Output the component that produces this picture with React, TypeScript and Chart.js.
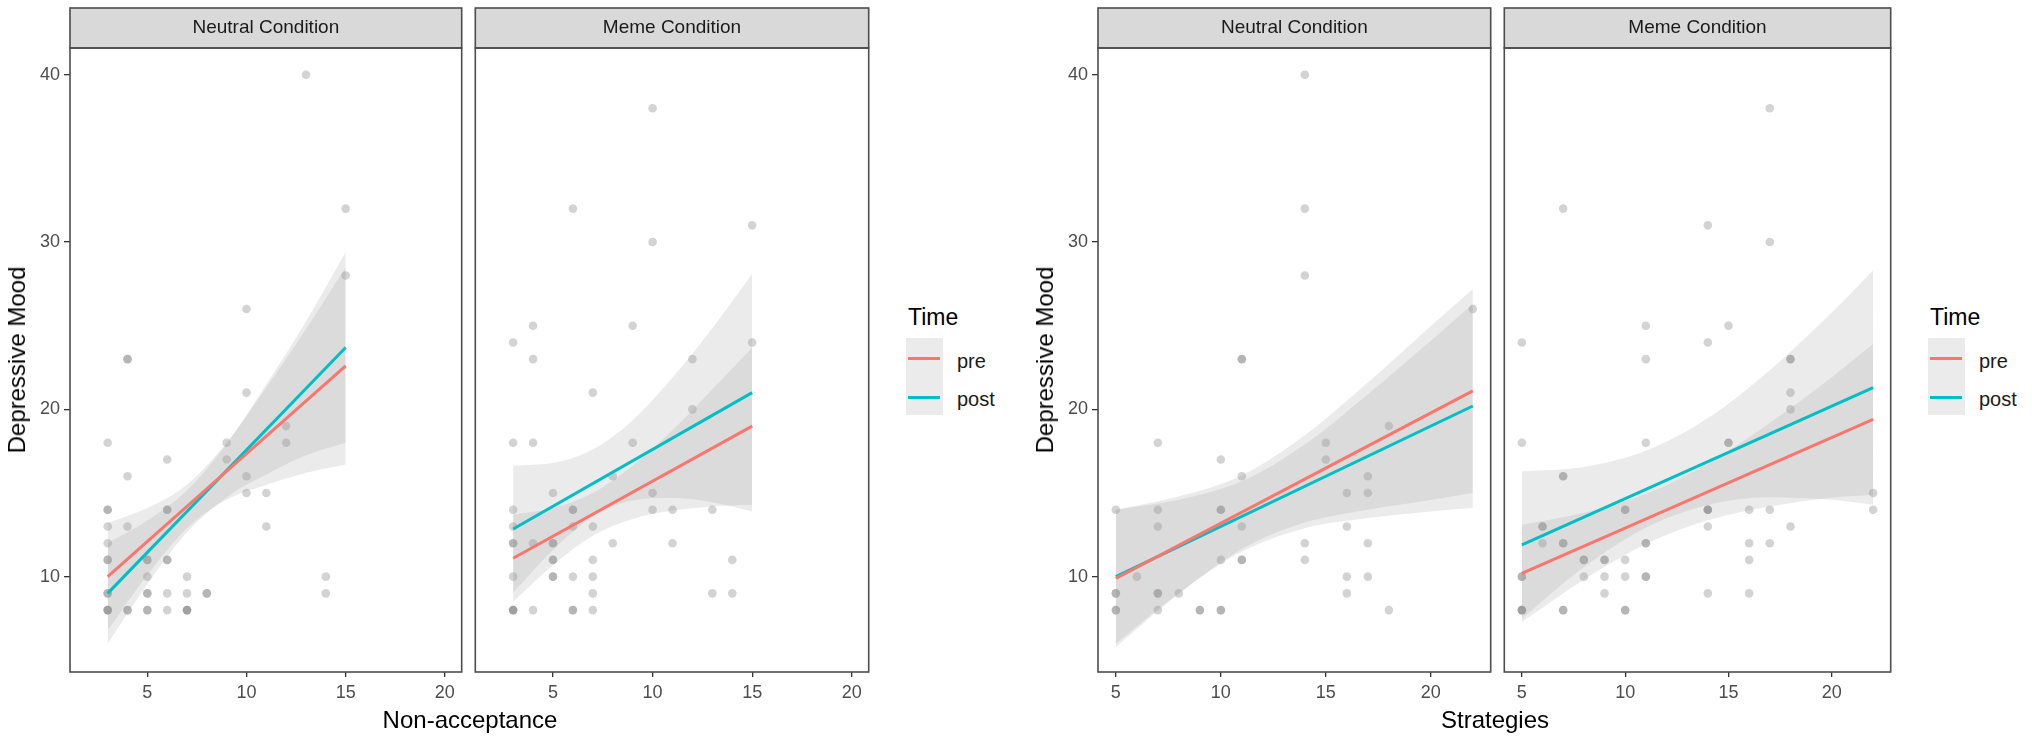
import React, { useEffect, useRef } from 'react';
import { Chart, registerables } from 'chart.js';

Chart.register(...registerables);

const PRE = '#F8766D';
const POST = '#00BFC4';
const FONT = '"Liberation Sans", Arial, sans-serif';
const BAND = 'rgba(153,153,153,0.2)';
const DOT = 'rgba(110,110,110,0.3)';

const conditions = ['Neutral Condition', 'Meme Condition'];
const timeLabels = ['pre', 'post'];
const yTicks = [10, 20, 30, 40];
const yRange = [4.3, 41.6];
const nonAccTicks = [5, 10, 15, 20];
const nonAccRange = [1.1, 20.85];
const strategyTicks = [5, 10, 15, 20];
const strategyRange = [4.15, 22.85];

// Neutral condition, Non-acceptance
const nnPoints = [
  [13, 40], [15, 32], [15, 28], [10, 26], [4, 23], [4, 23], [10, 21], [3, 18], [6, 17], [9, 18],
  [9, 17], [12, 19], [12, 18], [4, 16], [10, 16], [10, 15], [11, 15], [3, 14], [3, 14], [6, 14],
  [6, 14], [3, 13], [4, 13], [11, 13], [3, 12], [3, 11], [3, 11], [5, 11], [5, 11], [6, 11],
  [6, 11], [5, 10], [7, 10], [14, 10], [3, 9], [3, 9], [5, 9], [5, 9], [6, 9], [7, 9],
  [8, 9], [8, 9], [14, 9], [3, 8], [3, 8], [3, 8], [4, 8], [4, 8], [5, 8], [5, 8],
  [6, 8], [7, 8], [7, 8], [7, 8],
];
const nnLineX = [3, 15];
const nnPreLine = [10, 22.6];
const nnPostLine = [9, 23.7];
const nnBandX = [3, 5, 7, 9, 11, 13, 15];
const nnPreUp = [13.2, 14.1, 15.5, 18.0, 21.3, 24.8, 28.5];
const nnPreLo = [6.8, 10.1, 12.9, 14.6, 15.5, 16.2, 16.7];
const nnPostUp = [12.0, 13.35, 15.15, 17.95, 21.5, 25.25, 29.4];
const nnPostLo = [6.0, 9.55, 12.65, 14.75, 16.1, 17.25, 18.0];

// Meme condition, Non-acceptance
const mnPoints = [
  [10, 38], [6, 32], [15, 31], [10, 30], [4, 25], [9, 25], [3, 24], [15, 24], [4, 23], [12, 23],
  [7, 21], [12, 20], [3, 18], [4, 18], [9, 18], [8, 16], [5, 15], [10, 15], [3, 14], [6, 14],
  [6, 14], [10, 14], [11, 14], [13, 14], [3, 13], [6, 13], [7, 13], [3, 12], [3, 12], [4, 12],
  [5, 12], [5, 12], [8, 12], [11, 12], [5, 11], [5, 11], [7, 11], [14, 11], [3, 10], [5, 10],
  [5, 10], [6, 10], [7, 10], [7, 9], [13, 9], [14, 9], [3, 8], [3, 8], [3, 8], [4, 8],
  [6, 8], [6, 8], [7, 8],
];
const mnLineX = [3, 15];
const mnPreLine = [11.1, 19.0];
const mnPostLine = [12.85, 21.0];
const mnBandX = [3, 5, 7, 9, 11, 13, 15];
const mnPreUp = [13.7, 14.1, 15.0, 16.65, 18.75, 21.2, 23.7];
const mnPreLo = [8.5, 10.7, 12.45, 13.45, 13.95, 14.2, 14.3];
const mnPostUp = [16.65, 16.8, 17.6, 19.35, 21.9, 24.85, 28.1];
const mnPostLo = [9.05, 11.6, 13.6, 14.55, 14.7, 14.45, 13.9];

// Neutral condition, Strategies
const nsPoints = [
  [14, 40], [14, 32], [14, 28], [11, 23], [11, 23], [22, 26], [7, 18], [18, 19], [15, 18], [15, 17],
  [10, 17], [11, 16], [17, 16], [16, 15], [17, 15], [5, 14], [7, 14], [10, 14], [10, 14], [7, 13],
  [11, 13], [16, 13], [14, 12], [17, 12], [10, 11], [11, 11], [11, 11], [14, 11], [6, 10], [16, 10],
  [17, 10], [5, 9], [5, 9], [7, 9], [7, 9], [8, 9], [16, 9], [5, 8], [5, 8], [7, 8],
  [9, 8], [9, 8], [10, 8], [10, 8], [18, 8],
];
const nsLineX = [5, 22];
const nsPreLine = [9.9, 21.1];
const nsPostLine = [10.0, 20.2];
const nsBandX = [5, 8, 11, 14, 17, 20, 22];
const nsPreUp = [14.0, 14.8, 16.05, 18.45, 21.6, 24.98, 27.2];
const nsPreLo = [5.8, 8.98, 11.65, 13.23, 14.0, 14.58, 15.0];
const nsPostUp = [14.0, 14.6, 15.7, 17.9, 20.9, 24.1, 26.3];
const nsPostLo = [6.0, 9.0, 11.5, 12.9, 13.5, 13.9, 14.1];

// Meme condition, Strategies
const msPoints = [
  [17, 38], [7, 32], [14, 31], [17, 30], [11, 25], [15, 25], [5, 24], [14, 24], [11, 23], [18, 23],
  [18, 23], [18, 21], [18, 20], [5, 18], [11, 18], [15, 18], [15, 18], [7, 16], [7, 16], [22, 15],
  [10, 14], [10, 14], [14, 14], [14, 14], [14, 14], [16, 14], [17, 14], [22, 14], [6, 13], [6, 13],
  [14, 13], [18, 13], [6, 12], [7, 12], [7, 12], [11, 12], [11, 12], [16, 12], [17, 12], [8, 11],
  [8, 11], [9, 11], [9, 11], [10, 11], [16, 11], [5, 10], [5, 10], [8, 10], [9, 10], [10, 10],
  [11, 10], [11, 10], [9, 9], [14, 9], [16, 9], [5, 8], [5, 8], [5, 8], [7, 8], [7, 8],
  [10, 8], [10, 8],
];
const msLineX = [5, 22];
const msPreLine = [10.2, 19.4];
const msPostLine = [11.9, 21.3];
const msBandX = [5, 8, 11, 14, 17, 20, 22];
const msPreUp = [13.1, 13.82, 14.95, 16.77, 19.19, 21.92, 23.9];
const msPreLo = [7.3, 9.82, 11.95, 13.37, 14.19, 14.72, 14.9];
const msPostUp = [16.3, 16.56, 17.52, 19.48, 22.34, 25.79, 28.3];
const msPostLo = [7.5, 10.56, 12.92, 14.28, 14.74, 14.59, 14.3];

const xy = (xs: number[], ys: number[]) => xs.map((x, i) => ({ x, y: ys[i] }));

// grey strip above each panel and the panel border
const facetPlugin = {
  id: 'facet',
  beforeDraw(chart: any) {
    const { ctx, chartArea: a } = chart;
    ctx.save();
    ctx.fillStyle = '#D9D9D9';
    ctx.fillRect(a.left, a.top - 40, a.right - a.left, 40);
    ctx.strokeStyle = '#4D4D4D';
    ctx.lineWidth = 1.6;
    ctx.strokeRect(a.left, a.top - 40, a.right - a.left, 40);
    ctx.restore();
  },
  afterDatasetsDraw(chart: any) {
    const { ctx, chartArea: a } = chart;
    ctx.save();
    ctx.strokeStyle = '#4D4D4D';
    ctx.lineWidth = 1.6;
    ctx.strokeRect(a.left, a.top, a.right - a.left, a.bottom - a.top);
    ctx.restore();
  },
};

type PanelProps = {
  left: number;
  width: number;
  padLeft: number;
  showY: boolean;
  title: string;
  xRange: number[];
  xTicks: number[];
  points: number[][];
  lineX: number[];
  preLine: number[];
  postLine: number[];
  bandX: number[];
  preUp: number[];
  preLo: number[];
  postUp: number[];
  postLo: number[];
};

const Panel = (p: PanelProps) => {
  const ref = useRef<HTMLCanvasElement>(null);
  useEffect(() => {
    const bandStyle = { type: 'line', showLine: true, borderWidth: 0, pointRadius: 0, cubicInterpolationMode: 'monotone', order: 1 };
    const lineStyle = { type: 'line', showLine: true, borderWidth: 3, pointRadius: 0, fill: false, order: 0 };
    const c = new Chart(ref.current as HTMLCanvasElement, {
      type: 'scatter',
      data: {
        datasets: [
          { ...lineStyle, label: timeLabels[0], data: xy(p.lineX, p.preLine), borderColor: PRE },
          { ...lineStyle, label: timeLabels[1], data: xy(p.lineX, p.postLine), borderColor: POST },
          { ...bandStyle, data: xy(p.bandX, p.preUp), fill: '+1', backgroundColor: BAND },
          { ...bandStyle, data: xy(p.bandX, p.preLo), fill: false },
          { ...bandStyle, data: xy(p.bandX, p.postUp), fill: '+1', backgroundColor: BAND },
          { ...bandStyle, data: xy(p.bandX, p.postLo), fill: false },
          {
            data: p.points.map(([x, y]) => ({ x, y })),
            pointRadius: 4.3,
            pointBorderWidth: 0,
            backgroundColor: DOT,
            order: 2,
          },
        ] as any,
      },
      options: {
        animation: false,
        responsive: false,
        devicePixelRatio: 1,
        events: [],
        layout: { padding: { top: 8, left: p.padLeft, right: 3, bottom: 0 } },
        plugins: {
          legend: { display: false },
          tooltip: { enabled: false },
          title: {
            display: true,
            text: p.title,
            fullSize: false,
            padding: 0,
            color: '#1A1A1A',
            font: { family: FONT, size: 19, weight: 'normal', lineHeight: '40px' as any },
          },
        },
        scales: {
          x: {
            type: 'linear',
            min: p.xRange[0],
            max: p.xRange[1],
            afterBuildTicks: (s: any) => { s.ticks = p.xTicks.map((v) => ({ value: v })); },
            afterFit: (s: any) => { s.height = 40; },
            border: { display: false },
            grid: { drawOnChartArea: false, drawTicks: true, tickLength: 5, color: '#333333', lineWidth: 1.3 },
            ticks: { color: '#4D4D4D', padding: 5, font: { family: FONT, size: 18 }, maxRotation: 0, callback: (v: any) => String(v) },
          },
          y: {
            type: 'linear',
            display: p.showY,
            min: yRange[0],
            max: yRange[1],
            afterBuildTicks: (s: any) => { s.ticks = yTicks.map((v) => ({ value: v })); },
            afterFit: (s: any) => { s.width = p.showY ? 70 : 0; },
            border: { display: false },
            grid: { drawOnChartArea: false, drawTicks: true, tickLength: 6, color: '#333333', lineWidth: 1.3 },
            ticks: { color: '#4D4D4D', padding: 4, font: { family: FONT, size: 18 }, callback: (v: any) => String(v) },
          },
        },
      },
      plugins: [facetPlugin],
    } as any);
    return () => {
      c.destroy();
    };
  }, []);
  return (
    <canvas
      ref={ref}
      width={p.width}
      height={712}
      style={{ position: 'absolute', left: p.left, top: 0, width: p.width, height: 712 }}
    />
  );
};

const Legend = ({ left }: { left: number }) => (
  <>
    <div style={{ position: 'absolute', left: left + 2, top: 306, fontSize: 23, lineHeight: '23px', color: '#000' }}>Time</div>
    <div style={{ position: 'absolute', left, top: 338, width: 37, height: 77, background: '#EBEBEB' }} />
    <div style={{ position: 'absolute', left: left + 2, top: 357, width: 32, height: 3, background: PRE }} />
    <div style={{ position: 'absolute', left: left + 2, top: 396, width: 32, height: 3, background: POST }} />
    <div style={{ position: 'absolute', left: left + 51, top: 349, fontSize: 20, lineHeight: '24px', color: '#1A1A1A' }}>{timeLabels[0]}</div>
    <div style={{ position: 'absolute', left: left + 51, top: 387, fontSize: 20, lineHeight: '24px', color: '#1A1A1A' }}>{timeLabels[1]}</div>
  </>
);

const YTitle = ({ cx }: { cx: number }) => (
  <div
    style={{
      position: 'absolute', left: cx, top: 360, fontSize: 24, whiteSpace: 'nowrap', color: '#000',
      transform: 'translate(-50%, -50%) rotate(-90deg)',
    }}
  >
    Depressive Mood
  </div>
);

const XTitle = ({ cx, text }: { cx: number; text: string }) => (
  <div
    style={{
      position: 'absolute', left: cx, top: 720, fontSize: 24, whiteSpace: 'nowrap', color: '#000',
      transform: 'translate(-50%, -50%)',
    }}
  >
    {text}
  </div>
);

const App = () => {
  return (
    <div style={{ position: 'absolute', left: 0, top: 0, width: 2032, height: 743, background: '#fff', fontFamily: FONT, overflow: 'hidden' }}>
      <Panel left={0} width={466} padLeft={0} showY title={conditions[0]} xRange={nonAccRange} xTicks={nonAccTicks}
        points={nnPoints} lineX={nnLineX} preLine={nnPreLine} postLine={nnPostLine}
        bandX={nnBandX} preUp={nnPreUp} preLo={nnPreLo} postUp={nnPostUp} postLo={nnPostLo} />
      <Panel left={471} width={402} padLeft={3} showY={false} title={conditions[1]} xRange={nonAccRange} xTicks={nonAccTicks}
        points={mnPoints} lineX={mnLineX} preLine={mnPreLine} postLine={mnPostLine}
        bandX={mnBandX} preUp={mnPreUp} preLo={mnPreLo} postUp={mnPostUp} postLo={mnPostLo} />
      <Panel left={1028} width={467} padLeft={0} showY title={conditions[0]} xRange={strategyRange} xTicks={strategyTicks}
        points={nsPoints} lineX={nsLineX} preLine={nsPreLine} postLine={nsPostLine}
        bandX={nsBandX} preUp={nsPreUp} preLo={nsPreLo} postUp={nsPostUp} postLo={nsPostLo} />
      <Panel left={1500} width={395} padLeft={3} showY={false} title={conditions[1]} xRange={strategyRange} xTicks={strategyTicks}
        points={msPoints} lineX={msLineX} preLine={msPreLine} postLine={msPostLine}
        bandX={msBandX} preUp={msPreUp} preLo={msPreLo} postUp={msPostUp} postLo={msPostLo} />
      <YTitle cx={17} />
      <YTitle cx={1045} />
      <XTitle cx={470} text="Non-acceptance" />
      <XTitle cx={1495} text="Strategies" />
      <Legend left={906} />
      <Legend left={1928} />
    </div>
  );
};

export default App;
